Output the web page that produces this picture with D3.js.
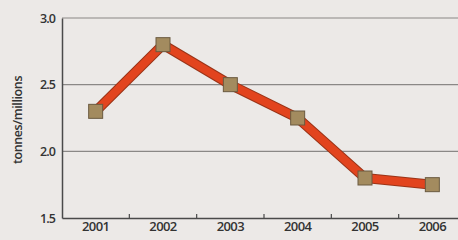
<!DOCTYPE html>
<html>
<head>
<meta charset="utf-8">
<script src="https://cdn.jsdelivr.net/npm/d3@7"></script>
<style>
  body { margin: 0; background: #ece9e7; }
  svg { display: block; }
  .tick text { font-family: "Open Sans", sans-serif; font-weight: 600; fill: #333; }
</style>
</head>
<body>
<div id="chart"></div>
<script>
const years = ['2001', '2002', '2003', '2004', '2005', '2006'];
const tonnes = [2.3, 2.8, 2.5, 2.25, 1.8, 1.75];
const yTicks = [1.5, 2.0, 2.5, 3.0];

const W = 458, H = 240;
const margin = { left: 62, top: 18, right: -8, bottom: 22 };

const svg = d3.select('div#chart').append('svg')
  .attr('width', W)
  .attr('height', H);

svg.append('rect').attr('width', W).attr('height', H).attr('fill', '#ece9e7');

const x = d3.scaleBand()
  .domain(years)
  .range([margin.left, W - margin.right]);
const y = d3.scaleLinear()
  .domain([1.5, 3.0])
  .range([H - margin.bottom, margin.top]);

// grid lines (incl. top border)
svg.append('g')
  .selectAll('line')
  .data(yTicks.slice(1))
  .enter()
  .append('line')
  .attr('x1', margin.left)
  .attr('x2', W)
  .attr('y1', d => y(d))
  .attr('y2', d => y(d))
  .attr('stroke', '#8a8886')
  .attr('stroke-width', 1.2);

// y axis
const yAxis = svg.append('g')
  .attr('transform', `translate(${margin.left},0)`)
  .call(d3.axisLeft(y).tickValues(yTicks).tickFormat(d3.format('.1f')).tickSize(0).tickPadding(7));
yAxis.select('.domain').attr('stroke', '#4a4a4a').attr('stroke-width', 1.5);
yAxis.selectAll('.tick text').attr('font-size', 12.5).attr('letter-spacing', -0.9);

// x axis
const xAxis = svg.append('g')
  .attr('transform', `translate(0,${H - margin.bottom})`)
  .call(d3.axisBottom(x).tickSize(0).tickPadding(4));
xAxis.select('.domain').attr('stroke', '#4a4a4a').attr('stroke-width', 1.5);
xAxis.selectAll('.tick text').attr('font-size', 13).attr('letter-spacing', -0.6);

// small ticks between years
xAxis.append('g')
  .selectAll('line')
  .data(years.slice(1))
  .enter()
  .append('line')
  .attr('x1', d => x(d))
  .attr('x2', d => x(d))
  .attr('y1', 0)
  .attr('y2', -4)
  .attr('stroke', '#4a4a4a')
  .attr('stroke-width', 1.2);

// axis title
svg.append('text')
  .attr('transform', `translate(22,${(y(1.5) + y(3.0)) / 2 + 2}) rotate(-90)`)
  .attr('text-anchor', 'middle')
  .attr('font-family', '"Open Sans", sans-serif')
  .attr('font-weight', 600)
  .attr('font-size', 12.5)
  .attr('letter-spacing', -0.4)
  .attr('fill', '#333')
  .text('tonnes/millions');

const line = d3.line()
  .x((d, i) => x(years[i]) + x.bandwidth() / 2)
  .y(d => y(d));

svg.append('path')
  .datum(tonnes)
  .attr('d', line)
  .attr('fill', 'none')
  .attr('stroke', '#9a3418')
  .attr('stroke-width', 10)
  .attr('stroke-linejoin', 'round');
svg.append('path')
  .datum(tonnes)
  .attr('d', line)
  .attr('fill', 'none')
  .attr('stroke', '#e2441e')
  .attr('stroke-width', 8)
  .attr('stroke-linejoin', 'round');

svg.append('g')
  .selectAll('rect')
  .data(tonnes)
  .enter()
  .append('rect')
  .attr('x', (d, i) => x(years[i]) + x.bandwidth() / 2 - 7)
  .attr('y', d => y(d) - 7)
  .attr('width', 14)
  .attr('height', 14)
  .attr('fill', '#a38b5f')
  .attr('stroke', '#6a5a40')
  .attr('stroke-width', 1);
</script>
</body>
</html>
